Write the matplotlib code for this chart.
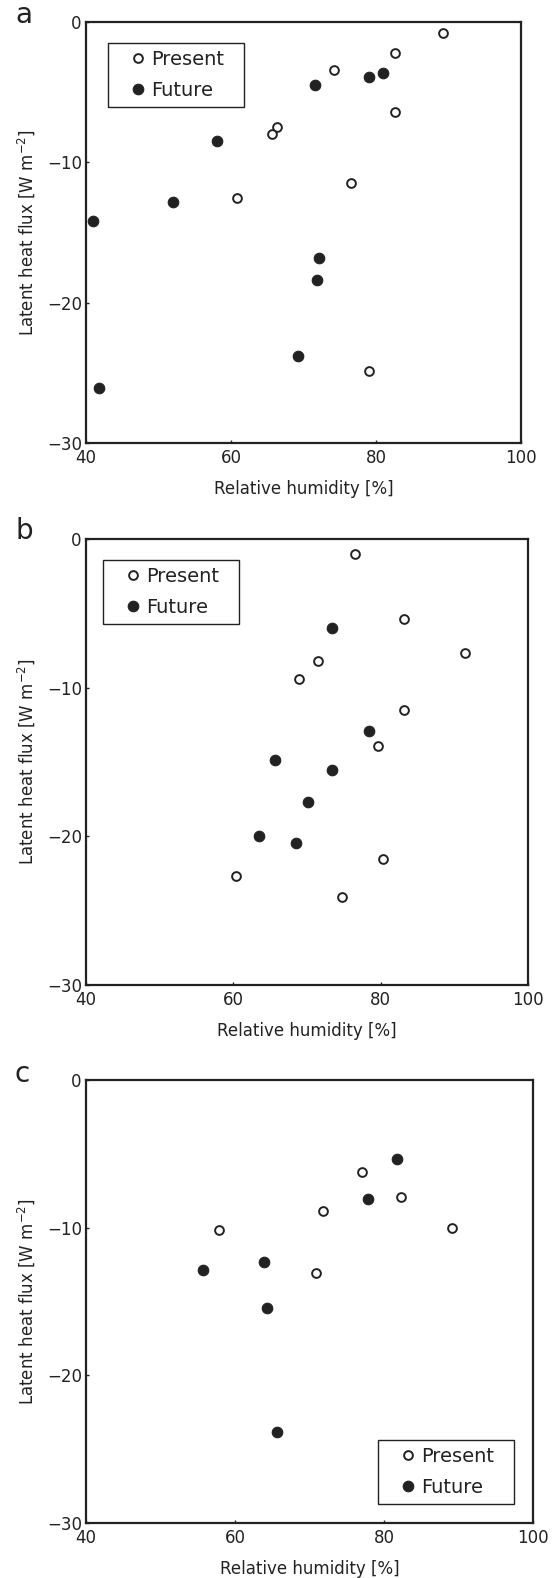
import matplotlib.pyplot as plt
from matplotlib.patches import Rectangle

plt.rcParams['font.family'] = ['DejaVu Sans']

# panel a
a_pres_rh = [89.3, 82.6, 74.2, 82.6, 66.3, 65.7, 76.6, 60.8, 79.0]
a_pres_lh = [-0.8, -2.2, -3.4, -6.4, -7.5, -8.0, -11.45, -12.55, -24.85]
a_fut_rh = [80.9, 79.0, 71.6, 58.1, 52.0, 41.0, 72.2, 71.8, 69.2, 41.8]
a_fut_lh = [-3.65, -3.95, -4.5, -8.5, -12.8, -14.2, -16.8, -18.4, -23.8, -26.1]

# panel b
b_pres_rh = [76.5, 83.1, 91.4, 71.5, 68.9, 83.1, 79.6, 80.3, 60.4, 74.8]
b_pres_lh = [-1.0, -5.4, -7.65, -8.2, -9.4, -11.5, -13.95, -21.55, -22.7, -24.1]
b_fut_rh = [73.4, 78.4, 65.6, 73.4, 70.1, 63.5, 68.5]
b_fut_lh = [-6.0, -12.9, -14.85, -15.55, -17.7, -20.0, -20.45]

# panel c
c_pres_rh = [77.1, 82.3, 71.8, 57.8, 89.1, 70.9]
c_pres_lh = [-6.2, -7.95, -8.9, -10.15, -10.05, -13.1]
c_fut_rh = [81.8, 77.9, 63.9, 55.7, 64.3, 65.6]
c_fut_lh = [-5.35, -8.05, -12.3, -12.85, -15.45, -23.85]

xticks = [40, 60, 80, 100]
yticks = [0, -10, -20, -30]

W, H = 553, 1578
fig = plt.figure(figsize=(W / 100, H / 100), dpi=100)

# axes boxes in pixels: left, right, top, bottom
boxes = [(86, 521, 22, 443), (86, 528, 539, 985), (86, 533, 1080, 1523)]
# legend frames in pixels: left, top (136 x 64 px)
leg_boxes = [(108, 43), (103, 560), (378, 1440)]
LW, LH = 136, 64
panels = [
    (a_pres_rh, a_pres_lh, a_fut_rh, a_fut_lh),
    (b_pres_rh, b_pres_lh, b_fut_rh, b_fut_lh),
    (c_pres_rh, c_pres_lh, c_fut_rh, c_fut_lh),
]
letters = ['a', 'b', 'c']
letter_y = [15, 531, 1074]

ink = '#222222'

for i in range(3):
    l, r, t, b = boxes[i]
    aw, ah = r - l, b - t
    ax = fig.add_axes([l / W, (H - b) / H, aw / W, ah / H])
    pr, pl, fr, fl = panels[i]
    ax.plot(pr, pl, 'o', ms=6.3, mfc='white', mec=ink, mew=1.4, label='Present')
    ax.plot(fr, fl, 'o', ms=7.6, mfc=ink, mec=ink, mew=0.8, label='Future')
    ax.set_xlim(40, 100)
    ax.set_ylim(-30, 0)
    ax.set_xticks(xticks)
    ax.set_yticks(yticks)
    ax.set_xticklabels([str(v) for v in xticks])
    ax.set_yticklabels([str(v).replace('-', '\u2212') for v in yticks])
    ax.tick_params(direction='in', length=2.5, width=1, colors=ink,
                   labelsize=12, pad=4)
    ax.tick_params(axis='y', pad=3)
    for s in ax.spines.values():
        s.set_linewidth(1.6)
        s.set_color(ink)
    ax.set_xlabel('Relative humidity [%]', fontsize=12, color=ink, labelpad=10)
    ax.set_ylabel('Latent heat flux [W m$^{-2}$]', fontsize=12, color=ink,
                  labelpad=7)

    # legend frame
    bl, bt = leg_boxes[i]
    fx0 = (bl - l) / aw
    fy1 = (b - bt) / ah
    ax.add_patch(Rectangle((fx0, fy1 - LH / ah), LW / aw, LH / ah,
                           transform=ax.transAxes, fill=True, fc='white',
                           ec=ink, lw=1.0, zorder=5))
    leg = ax.legend(loc='upper left',
                    bbox_to_anchor=((bl + 20 - l) / aw, (b - bt - 7) / ah),
                    fontsize=14, frameon=False, handlelength=1.0,
                    handletextpad=0.2, borderpad=0, labelspacing=0.62,
                    borderaxespad=0)
    leg.set_zorder(6)
    for txt in leg.get_texts():
        txt.set_color(ink)

    fig.text(15 / W, 1 - letter_y[i] / H, letters[i], fontsize=20,
             color=ink, ha='left', va='center')

fig.savefig('out.png', dpi=100)
